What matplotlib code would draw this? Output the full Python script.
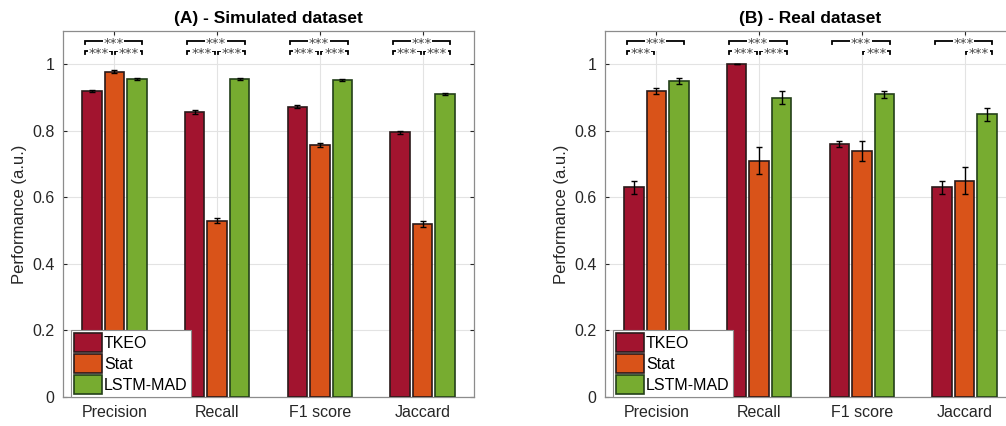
import numpy as np
import matplotlib
matplotlib.use("Agg")
import matplotlib.pyplot as plt
from matplotlib.patches import Patch

plt.rcParams['font.family'] = ['Liberation Sans', 'DejaVu Sans']

# data
metrics = ["Precision", "Recall", "F1 score", "Jaccard"]
methods = ["TKEO", "Stat", "LSTM-MAD"]
colors = ["#A2142F", "#D95319", "#77AC30"]
edges = ["#2b1a1a", "#2b1a1a", "#24401a"]

sim_mean = [[0.920, 0.857, 0.873, 0.795],
            [0.978, 0.530, 0.757, 0.520],
            [0.955, 0.957, 0.952, 0.912]]
sim_err = [[0.004, 0.005, 0.004, 0.005],
           [0.004, 0.008, 0.006, 0.008],
           [0.003, 0.003, 0.003, 0.003]]

real_mean = [[0.63, 1.00, 0.76, 0.63],
             [0.92, 0.71, 0.74, 0.65],
             [0.95, 0.90, 0.91, 0.85]]
real_err = [[0.020, 0.000, 0.010, 0.020],
            [0.010, 0.040, 0.030, 0.040],
            [0.010, 0.020, 0.010, 0.020]]

# significance brackets per metric: top (TKEO vs LSTM), low-left (TKEO vs Stat), low-right (Stat vs LSTM)
sim_sig = [(True, True, True)] * 4
real_sig = [(True, True, False), (True, True, True), (True, False, True), (True, False, True)]


def bracket(ax, x1, x2, y, h, txt, fs):
    ax.plot([x1, x1, x2, x2], [y - h, y, y, y - h], color="black", lw=1.3,
            clip_on=False, zorder=4, solid_joinstyle="miter")
    # asterisks sit high in the glyph box, so put the baseline below the line
    ax.text((x1 + x2) / 2, y - 0.019, txt, ha="center", va="baseline", fontsize=fs,
            family="DejaVu Sans", color="#444444", zorder=5,
            bbox=dict(facecolor="white", edgecolor="none", pad=0.5))


def panel(ax, means, errs, sig, title):
    x = np.arange(1, len(metrics) + 1)
    off = 0.22
    w = 0.19
    for i in range(3):
        ax.bar(x + (i - 1) * off, means[i], w, yerr=errs[i], color=colors[i],
               edgecolor=edges[i], linewidth=1.2, label=methods[i], zorder=3,
               error_kw=dict(ecolor="black", elinewidth=1.0, capsize=2.5, capthick=1.0, zorder=4))
    for k, c in enumerate(x):
        top, lo_l, lo_r = sig[k]
        if top:
            bracket(ax, c - 0.29, c + 0.27, 1.070, 0.010, "***", 9.5)
        if lo_l:
            bracket(ax, c - 0.29, c - 0.02, 1.040, 0.010, "***", 9.5)
        if lo_r:
            bracket(ax, c + 0.01, c + 0.27, 1.040, 0.010, "***", 9.5)
    ax.set_xlim(0.5, 4.5)
    ax.set_ylim(0, 1.1)
    ax.set_xticks(x)
    ax.set_xticklabels(metrics)
    ax.set_yticks([0, 0.2, 0.4, 0.6, 0.8, 1.0])
    ax.set_yticklabels(["0", "0.2", "0.4", "0.6", "0.8", "1"])
    ax.grid(True, color="#e3e3e3", lw=0.8, zorder=0)
    ax.set_axisbelow(True)
    ax.tick_params(direction="in", length=3, top=True, right=True, labelsize=11.5,
                   colors="#262626", pad=6)
    for s in ax.spines.values():
        s.set_color("#8c8c8c")
        s.set_linewidth(0.9)
    ax.set_ylabel("Performance (a.u.)", fontsize=12, color="#262626")
    ax.set_title(title, fontsize=12.5, fontweight="bold", pad=6)
    handles = [Patch(facecolor=colors[i], edgecolor=edges[i], linewidth=1.2) for i in range(3)]
    leg = ax.legend(handles, methods, loc="lower left", bbox_to_anchor=(0.02, 0.0),
                    fontsize=11.5, frameon=True, fancybox=False, framealpha=1,
                    borderaxespad=0.0, handlelength=1.7, handleheight=1.45,
                    handletextpad=0.15, labelspacing=0.12, borderpad=0.2)
    leg.get_frame().set_edgecolor("#8c8c8c")
    leg.get_frame().set_linewidth(0.8)
    leg.set_zorder(6)


fig = plt.figure(figsize=(10.06, 4.26), dpi=100)
W, H = 1006, 426
ax1 = fig.add_axes([63 / W, 1 - 397 / H, 411 / W, 366 / H])
ax2 = fig.add_axes([605 / W, 1 - 397 / H, 411 / W, 366 / H])
panel(ax1, sim_mean, sim_err, sim_sig, "(A) - Simulated dataset")
panel(ax2, real_mean, real_err, real_sig, "(B) - Real dataset")

fig.savefig("out.png", dpi=100)
